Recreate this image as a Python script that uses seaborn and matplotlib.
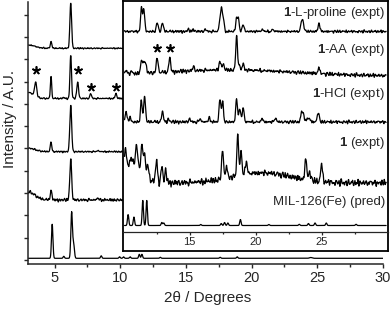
import numpy as np
import matplotlib
matplotlib.use("Agg")
import matplotlib.pyplot as plt
import seaborn as sns

# peak lists: (2theta, height, width); heights in px above the baseline
MAIN_BASE = [5.7, 64.0, 112.3, 165.5, 215.7]
MAIN_MIL = [(4.82, 34, 0.055), (6.30, 46, 0.06), (6.45, 14, 0.06), (5.70, 2, 0.05),
            (8.55, 2.5, 0.05), (9.95, 1.5, 0.05), (10.25, 1.5, 0.05), (10.75, 1.5, 0.05),
            (11.45, 4, 0.05), (11.65, 4, 0.05), (13.05, 1, 0.05), (17.6, 1, 0.05),
            (18.9, 1.5, 0.05), (24.5, 0.8, 0.1)]
MAIN_EXPT1 = [(3.0, 8, 0.5), (4.73, 10, 0.06), (6.23, 41, 0.07), (8.3, 1.5, 0.08)]
MAIN_HCL = [(3.0, 3.5, 0.5), (4.73, 9, 0.06), (6.23, 46.7, 0.07), (8.3, 1, 0.08)]
MAIN_AA = [(3.0, 6, 0.4), (3.56, 14.5, 0.08), (4.73, 22, 0.05), (5.7, 1, 0.05),
           (6.23, 43, 0.06), (6.76, 16, 0.07), (7.75, 5, 0.06), (9.67, 5, 0.06)]
MAIN_PRO = [(3.0, 3.3, 0.5), (4.73, 6.5, 0.06), (6.23, 45, 0.065)]
MAIN_NOISE = [0.0, 1.1, 0.6, 0.6, 0.5]

STAR_MAIN_X = [3.56, 6.76, 7.75, 9.67]
STAR_MAIN_Y = [194, 194, 176.7, 176.7]

INSET_BASE = [6.5, 49.0, 110.0, 156.0, 200.5]
INSET_MIL = [(10.35, 11, 0.05), (10.79, 8.5, 0.05), (11.46, 25, 0.05), (11.76, 25, 0.05),
             (12.9, 3, 0.05), (13.05, 2.5, 0.05), (15.85, 1, 0.05), (17.4, 2, 0.05),
             (17.65, 3, 0.05), (17.9, 2.5, 0.05), (18.85, 6, 0.05), (21.0, 1, 0.05),
             (23.3, 1.2, 0.05), (24.0, 2, 0.05), (24.5, 2.5, 0.05), (25.35, 2.5, 0.05),
             (27.6, 1.2, 0.05)]
INSET_EXPT1 = [(10.7, 20, 0.7), (20.5, 10, 2.2), (10.15, 21, 0.07), (10.6, 6, 0.07),
               (11.0, 20, 0.07), (11.4, 28, 0.065), (11.6, 22, 0.065), (11.85, 12, 0.07),
               (12.5, 22, 0.07), (12.9, 17, 0.07), (13.2, 12, 0.07), (17.5, 29, 0.07),
               (17.8, 12, 0.07), (18.65, 43, 0.065), (18.9, 24, 0.065), (19.3, 14, 0.07),
               (23.8, 22, 0.07), (24.1, 9, 0.07), (25.0, 18, 0.07)]
INSET_HCL = [(10.2, 10, 0.07), (10.5, 4, 0.07), (11.35, 22, 0.065), (11.6, 27, 0.065),
             (12.95, 10, 0.07), (13.4, 3, 0.07), (15.0, 3, 0.07), (15.8, 3, 0.07),
             (16.5, 4, 0.07), (17.3, 23, 0.065), (17.5, 21, 0.065), (18.56, 23, 0.065),
             (18.8, 14, 0.065), (19.06, 14, 0.07), (20.5, 3, 0.07), (21.5, 4, 0.07),
             (23.48, 9, 0.07), (23.62, 7, 0.07), (24.0, 4, 0.12), (24.74, 10, 0.07)]
INSET_AA = [(18.0, 6, 5.0), (10.2, 4, 0.07), (10.6, 3, 0.07), (11.36, 14, 0.065),
            (11.54, 12, 0.065), (11.7, 9, 0.065), (12.55, 15, 0.07), (13.5, 14, 0.07),
            (15.3, 4, 0.07), (17.3, 9, 0.07), (17.55, 6, 0.07), (18.56, 34, 0.065),
            (18.75, 5, 0.07), (19.06, 6, 0.07), (24.8, 6, 0.07)]
INSET_PRO = [(11.36, 24, 0.065), (11.54, 22, 0.065), (12.55, 9, 0.07), (12.95, 8.5, 0.07),
             (14.9, 2, 0.07), (15.3, 2, 0.07), (16.2, 2, 0.07), (17.3, 12, 0.065),
             (17.42, 20, 0.055), (17.55, 14, 0.065), (18.56, 13, 0.065), (18.7, 12, 0.065),
             (19.06, 7, 0.07), (20.5, 2, 0.07), (21.3, 2, 0.07), (23.48, 9, 0.07),
             (23.6, 8, 0.07), (24.8, 8, 0.07)]
INSET_NOISE = [0.0, 2.4, 1.2, 1.4, 1.0]

STAR_INSET_X = [12.55, 13.5]
STAR_INSET_Y = [183.7, 183.7]

INSET_LABELS = [r"MIL-126(Fe) (pred)", r"$\mathbf{1}$ (expt)", r"$\mathbf{1}$-HCl (expt)",
                r"$\mathbf{1}$-AA (expt)", r"$\mathbf{1}$-L-proline (expt)"]
INSET_LABEL_Y = [30.3, 88.7, 138, 182, 219.3]

# hand-typed wiggle used as measurement noise on the experimental traces
NOISE_A = [0.3, -0.8, 0.5, 0.9, -0.2, -0.7, 0.6, -0.4, 0.1, 0.8, -0.9, 0.2, 0.7,
           -0.5, -0.1, 0.4, -0.6, 0.9, -0.3, 0.0, 0.6, -0.8, 0.3, -0.2, 0.7, -0.7,
           0.5, 0.1, -0.4, 0.8, -0.6, 0.2, -0.9, 0.4, 0.6, -0.3, -0.1]
NOISE_B = [-0.5, 0.7, 0.2, -0.9, 0.4, 0.1, -0.3, 0.8, -0.6, 0.5, -0.1, -0.7, 0.9,
           0.3, -0.4, 0.6, -0.8, 0.0, 0.4, -0.2, 0.7, -0.5, 0.2, 0.8, -0.9, 0.3,
           -0.6, 0.5, 0.1, -0.3, 0.6, -0.7, 0.9, -0.2, 0.4, -0.8, 0.3, 0.0, -0.4,
           0.7, -0.1]


def pattern(x, base, peaks):
    y = np.full(len(x), base, dtype=float)
    for pos, h, w in peaks:
        y += h * np.exp(-0.5 * ((x - pos) / w) ** 2)
    return y


def wiggle(n, shift, amp):
    raw = np.resize(np.repeat(NOISE_A, 3), n) + np.resize(np.repeat(NOISE_B, 4), n)
    raw = np.roll(raw, shift)
    return amp * np.convolve(raw, np.ones(3) / 3, mode="same")


sns.set_style("ticks")
plt.rcParams["font.family"] = ["Liberation Sans", "DejaVu Sans"]
plt.rcParams["mathtext.fontset"] = "custom"
plt.rcParams["mathtext.rm"] = "Liberation Sans"
plt.rcParams["mathtext.bf"] = "Liberation Sans:bold"

fig = plt.figure(figsize=(3.92, 3.10), dpi=100)
W, H = 392.0, 310.0

# main panel
ax = fig.add_axes([28.3 / W, 46 / H, (383 - 28.3) / W, 262 / H])
x_main = np.arange(3.0, 30.001, 0.02)
main_sets = [MAIN_MIL, MAIN_EXPT1, MAIN_HCL, MAIN_AA, MAIN_PRO]
for i, peaks in enumerate(main_sets):
    y = pattern(x_main, MAIN_BASE[i], peaks) + wiggle(len(x_main), 17 * i, MAIN_NOISE[i])
    sns.lineplot(x=x_main, y=y, ax=ax, color="black", linewidth=0.9,
                 estimator=None, sort=False)
ax.scatter(STAR_MAIN_X, STAR_MAIN_Y, marker=(5, 2, 0), s=28, color="black",
           linewidths=1.2, zorder=3)
ax.set_xlim(3, 30)
ax.set_ylim(0, 262)
ax.set_xticks([5, 10, 15, 20, 25, 30])
ax.set_xticks([7.5, 12.5, 17.5, 22.5, 27.5], minor=True)
ax.set_yticks(4 + 22.3 * np.arange(12))
ax.set_yticklabels([])
ax.tick_params(axis="x", direction="out", length=3, width=1, labelsize=10.5, pad=2)
ax.tick_params(axis="x", which="minor", direction="out", length=2, width=1)
ax.tick_params(axis="y", direction="out", length=2.6, width=1)
for s in ["top", "right"]:
    ax.spines[s].set_visible(False)
for s in ["left", "bottom"]:
    ax.spines[s].set_linewidth(1.1)
ax.set_xlabel("")
ax.set_ylabel("")

fig.text(208 / W, 1 - 298 / H, "2\u03b8 / Degrees", ha="center", va="center", fontsize=11)
fig.text(10 / W, 1 - 119 / H, "Intensity / A.U.", ha="center", va="center",
         rotation=90, fontsize=11)

# white frame behind the inset
frame = fig.add_axes([123.5 / W, 1 - 250.5 / H, (388 - 123.5) / W, 249.5 / H])
frame.set_facecolor("white")
frame.set_xticks([])
frame.set_yticks([])
for s in frame.spines.values():
    s.set_linewidth(1.3)
    s.set_color("black")

# inset panel
ins = fig.add_axes([123.5 / W, 1 - 232 / H, (387.7 - 123.5) / W, 230 / H])
ins.patch.set_alpha(0)
x_in = np.arange(10.08, 29.9, 0.02)
inset_sets = [INSET_MIL, INSET_EXPT1, INSET_HCL, INSET_AA, INSET_PRO]
for i, peaks in enumerate(inset_sets):
    y = pattern(x_in, INSET_BASE[i], peaks) + wiggle(len(x_in), 29 * i + 5, INSET_NOISE[i])
    sns.lineplot(x=x_in, y=y, ax=ins, color="black", linewidth=0.9,
                 estimator=None, sort=False)
ins.scatter(STAR_INSET_X, STAR_INSET_Y, marker=(5, 2, 0), s=28, color="black",
            linewidths=1.2, zorder=3)
for lab, ly in zip(INSET_LABELS, INSET_LABEL_Y):
    ins.text(29.8, ly, lab, ha="right", va="center", fontsize=9.5)
ins.set_xlim(10, 30)
ins.set_ylim(0, 230)
ins.set_xticks([15, 20, 25])
ins.set_xticks([12.5, 17.5, 22.5, 27.5], minor=True)
ins.set_yticks([])
ins.tick_params(axis="x", direction="out", length=2.2, width=0.9, labelsize=8, pad=1.5)
ins.tick_params(axis="x", which="minor", direction="out", length=1.5, width=0.9)
for s in ["top", "right", "left"]:
    ins.spines[s].set_visible(False)
ins.spines["bottom"].set_linewidth(0.9)
ins.set_xlabel("")
ins.set_ylabel("")

fig.savefig("out.png", dpi=100)
